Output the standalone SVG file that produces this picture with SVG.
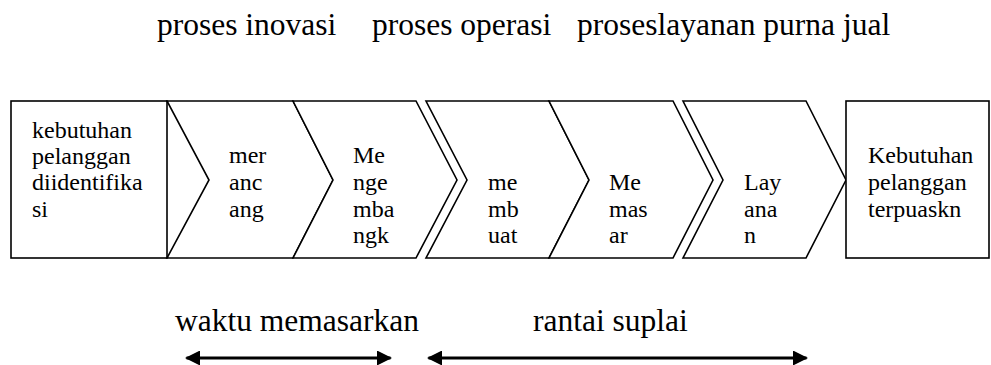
<svg xmlns="http://www.w3.org/2000/svg" width="991" height="365" viewBox="0 0 991 365">
  <style>
    .shape { fill: #ffffff; stroke: #000000; stroke-width: 1.6; stroke-linejoin: miter; }
    .txt { font-size: 24px; fill: #000000; }
    .head { font-size: 31.5px; fill: #000000; }
    .arrow { stroke: #000000; stroke-width: 3; fill: none; }
  </style>
  <defs>
    <marker id="ah" viewBox="0 0 10 10" refX="9" refY="5" markerWidth="5" markerHeight="5" markerUnits="strokeWidth" orient="auto-start-reverse">
      <path d="M0,0 L10,5 L0,10 Z" fill="#000000"/>
    </marker>
  </defs>
  <rect width="991" height="365" fill="#ffffff"/>

  <g font-family="Liberation Serif, DejaVu Serif, serif">
    <!-- stage headings -->
    <g id="headings">
      <text class="head" x="157" y="35">proses inovasi</text>
      <text class="head" x="372" y="35">proses operasi</text>
      <text class="head" x="577" y="35">proseslayanan purna jual</text>
    </g>

    <!-- value chain -->
    <g id="start">
      <rect class="shape" x="11" y="101" width="156" height="157"/>
      <text class="txt"><tspan x="32" y="138">kebutuhan</tspan><tspan x="32" y="164">pelanggan</tspan><tspan x="32" y="190">diidentifika</tspan><tspan x="32" y="217">si</tspan></text>
    </g>
    <g id="merancang">
      <polygon class="shape" points="167,101 293,101 333,180 293,258 167,258 209,180"/>
      <text class="txt"><tspan x="229" y="163">mer</tspan><tspan x="229" y="190">anc</tspan><tspan x="229" y="217">ang</tspan></text>
    </g>
    <g id="mengembangkan">
      <polygon class="shape" points="293,101 416,101 457,180 416,258 293,258 333,180"/>
      <text class="txt"><tspan x="353" y="163">Me</tspan><tspan x="353" y="190">nge</tspan><tspan x="353" y="217">mba</tspan><tspan x="353" y="243">ngk</tspan></text>
    </g>
    <g id="membuat">
      <polygon class="shape" points="426,101 549,101 589,180 549,258 426,258 467,180"/>
      <text class="txt"><tspan x="488" y="190">me</tspan><tspan x="488" y="217">mb</tspan><tspan x="488" y="243">uat</tspan></text>
    </g>
    <g id="memasar">
      <polygon class="shape" points="549,101 673,101 713,180 673,258 549,258 589,180"/>
      <text class="txt"><tspan x="609" y="190">Me</tspan><tspan x="609" y="217">mas</tspan><tspan x="609" y="243">ar</tspan></text>
    </g>
    <g id="layanan">
      <polygon class="shape" points="683,101 806,101 846,180 806,258 683,258 723,180"/>
      <text class="txt"><tspan x="744" y="190">Lay</tspan><tspan x="744" y="217">ana</tspan><tspan x="744" y="243">n</tspan></text>
    </g>
    <g id="end">
      <rect class="shape" x="846" y="101" width="143" height="157"/>
      <text class="txt"><tspan x="868" y="163">Kebutuhan</tspan><tspan x="868" y="190">pelanggan</tspan><tspan x="868" y="217">terpuaskn</tspan></text>
    </g>

    <!-- span labels -->
    <g id="spans">
      <text class="head" x="175" y="331">waktu memasarkan</text>
      <text class="head" x="533" y="331">rantai suplai</text>
    </g>
  </g>

  <g id="connectors">
    <line class="arrow" x1="186.5" y1="358" x2="390.5" y2="358" marker-start="url(#ah)" marker-end="url(#ah)"/>
    <line class="arrow" x1="428.5" y1="358" x2="806.5" y2="358" marker-start="url(#ah)" marker-end="url(#ah)"/>
  </g>
</svg>
